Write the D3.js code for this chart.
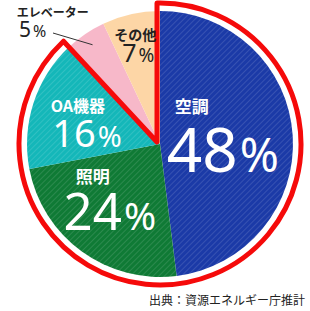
<!DOCTYPE html>
<html>
<head>
<meta charset="utf-8">
<script src="https://cdn.jsdelivr.net/npm/d3@7"></script>
<style>
  body { margin: 0; background: #fff; }
  svg { display: block; }
</style>
</head>
<body>
<script>
// data
const categories = ["空調", "照明", "OA機器", "エレベーター", "その他"];
const shares = [48, 24, 16, 5, 7];
const sliceColors = ["#1b3aa7", "#0f7a35", "#14b7b9", "#f7b8c9", "#fdd6a6"];
const hatched = [true, true, true, false, false];
const highlighted = ["空調", "照明", "OA機器"];
const sourceText = "出典：資源エネルギー庁推計";

const W = 310, H = 311;
const cx = 160, cy = 144, R = 133, redR = 141;

const svg = d3.select("body").append("svg")
    .attr("width", W)
    .attr("height", H);

// hatch patterns
const defs = svg.append("defs");
categories.forEach(function(c, i) {
    const p = defs.append("pattern")
        .attr("id", "hatch" + i)
        .attr("patternUnits", "userSpaceOnUse")
        .attr("width", 4)
        .attr("height", 4)
        .attr("patternTransform", "rotate(45)");
    p.append("rect").attr("width", 4).attr("height", 4).attr("fill", sliceColors[i]);
    if (hatched[i]) {
        p.append("line")
            .attr("x1", 0).attr("y1", 0).attr("x2", 0).attr("y2", 4)
            .attr("stroke", "#fff")
            .attr("stroke-opacity", 0.2)
            .attr("stroke-width", 1.2);
    }
});

const rows = categories.map(function(c, i) { return {name: c, value: shares[i], i: i}; });

const pie = d3.pie().sort(null).value(function(d) { return d.value; });
const arcs = pie(rows);
const arc = d3.arc().innerRadius(0).outerRadius(R);

const g = svg.append("g").attr("transform", "translate(" + cx + "," + cy + ")");

g.selectAll(".slice")
    .data(arcs)
    .enter()
    .append("path")
    .attr("class", "slice")
    .attr("d", arc)
    .attr("fill", function(d) { return "url(#hatch" + d.data.i + ")"; });

// red outline around the highlighted share
const total = d3.sum(shares);
const hiSum = d3.sum(rows.filter(function(d) { return highlighted.includes(d.name); }), function(d) { return d.value; });
const endA = hiSum / total * 2 * Math.PI;
const rp = d3.path();
const startPhi = -Math.PI / 2 - Math.asin(3 / redR);
rp.moveTo(-3, -2);
rp.lineTo(redR * Math.cos(startPhi), redR * Math.sin(startPhi));
rp.arc(0, 0, redR, startPhi, -Math.PI / 2 + endA, false);
rp.closePath();
g.append("path")
    .attr("d", rp.toString())
    .attr("fill", "none")
    .attr("stroke", "#f50a0a")
    .attr("stroke-width", 5)
    .attr("stroke-linejoin", "round");

// label layout: anchor radius + offsets from the centroid
const layout = [
    {rho: 70, name: [-38, -27], num: [-7, 32], nameSize: 17, numSize: 62, color: "#fff"},
    {rho: 70, name: [-26, -18], num: [-9, 29], nameSize: 17, numSize: 51, color: "#fff"},
    {rho: 80, name: [-6, -7], num: [3, 28], nameSize: 16, numSize: 38, color: "#fff"},
    {rho: 118, name: [-41, -29], num: [-61, -9], nameSize: 12, numSize: 21, color: "#222"},
    {rho: 100, name: [-3, -6], num: [0, 16], nameSize: 14, numSize: 25, color: "#222"}
];

arcs.forEach(function(d, i) {
    const L = layout[i];
    const c = d3.arc().innerRadius(L.rho).outerRadius(L.rho).centroid(d);
    g.append("text")
        .attr("x", c[0] + L.name[0])
        .attr("y", c[1] + L.name[1])
        .attr("text-anchor", "middle")
        .attr("font-family", "'Noto Sans CJK JP', sans-serif")
        .attr("font-weight", "bold")
        .attr("font-size", L.nameSize)
        .attr("fill", L.color)
        .text(d.data.name);
    const t = g.append("text")
        .attr("x", c[0] + L.num[0])
        .attr("y", c[1] + L.num[1])
        .attr("text-anchor", "middle")
        .attr("font-family", "'Noto Sans', sans-serif")
        .attr("fill", L.color);
    t.append("tspan").attr("font-size", L.numSize).text(d.data.value);
    t.append("tspan").attr("font-size", L.numSize * 0.76).attr("dx", 2).text("%");
});

// leader for the small slice
const elev = arcs[3];
const tip = d3.arc().innerRadius(120).outerRadius(120).centroid(elev);
g.append("line")
    .attr("x1", -107).attr("y1", -111)
    .attr("x2", tip[0]).attr("y2", tip[1])
    .attr("stroke", "#333")
    .attr("stroke-width", 1);

svg.append("text")
    .attr("x", 305)
    .attr("y", 305)
    .attr("text-anchor", "end")
    .attr("font-family", "'Noto Sans CJK JP', sans-serif")
    .attr("font-size", 12)
    .attr("fill", "#222")
    .text(sourceText);
</script>
</body>
</html>
